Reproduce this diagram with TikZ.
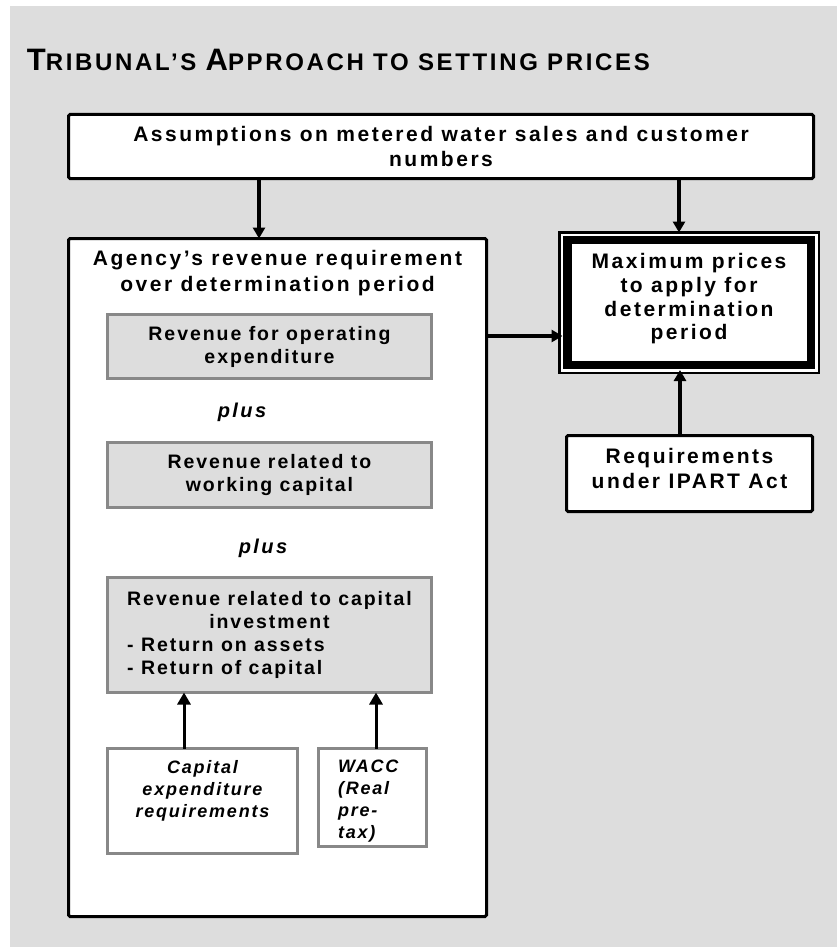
\documentclass[tikz,border=0pt]{standalone}
\usepackage{fontspec}
\setmainfont{Liberation Sans}
\newfontfamily\fA{Liberation Sans}[LetterSpace=12]
\newfontfamily\fT{Liberation Sans}[LetterSpace=11]
\newfontfamily\fG{Liberation Sans}[LetterSpace=10]
\usetikzlibrary{arrows.meta,calc}
\definecolor{bg}{RGB}{221,221,221}
\definecolor{gline}{RGB}{136,136,136}
\begin{document}
\begin{tikzpicture}[x=1pt,y=-1pt,
  every node/.style={inner sep=0pt, outer sep=0pt},
  blackbox/.style={draw=black, line width=3pt, fill=white, rounded corners=1.5pt},
  graybox/.style={draw=gline, line width=3pt, fill=bg},
  whitegray/.style={draw=gline, line width=3pt, fill=white},
  btext/.style={font=\fA\bfseries\fontsize{21}{25}\selectfont, align=center},
  gtext/.style={font=\fG\bfseries\fontsize{19.5}{23}\selectfont, align=center},
  itext/.style={font=\fG\bfseries\itshape\fontsize{18}{22}\selectfont},
  plustext/.style={font=\fA\bfseries\itshape\fontsize{20}{24}\selectfont},
  bigarrow/.style={line width=4.5pt, -{Triangle[length=11pt,width=12pt]}},
  midarrow/.style={line width=4pt, -{Triangle[length=11pt,width=12pt]}},
  smallarrow/.style={line width=3pt, -{Triangle[length=12pt,width=13pt]}},
]
\useasboundingbox (0,0) rectangle (837,947);
\fill[bg] (10,6) rectangle (837,947);

% title
\node[anchor=base west, font=\fT\bfseries] (title) at (27,71)
  {{\fontsize{31}{31}\selectfont T}{\fontsize{24}{24}\selectfont RIBUNAL’S }{\fontsize{31}{31}\selectfont A}{\fontsize{24}{24}\selectfont PPROACH TO SETTING PRICES}};

% top box
\node[blackbox, minimum width=745, minimum height=64, btext] (topbox) at (441,146.5)
  {Assumptions on metered water sales and customer\\numbers};

% agency box
\node[blackbox, minimum width=418, minimum height=678] (agency) at (277.5,577.5) {};
\node[btext, font=\fA\bfseries\fontsize{21}{26}\selectfont] (agtitle) at (277.5,273)
  {Agency’s revenue requirement\\over determination period};

\node[graybox, minimum width=324, minimum height=64, gtext] (box1) at (269.5,346.5)
  {Revenue for operating\\expenditure};
\node[plustext, anchor=base] (plus1) at (242,417) {plus};
\node[graybox, minimum width=324, minimum height=65, gtext] (box2) at (269.5,475)
  {Revenue related to\\working capital};
\node[plustext, anchor=base] (plus2) at (263,553) {plus};
\node[graybox, minimum width=324, minimum height=115, gtext] (box3) at (269.5,635)
  {\begin{tabular}{@{}l@{}}\multicolumn{1}{@{}c@{}}{Revenue related to capital}\\
   \multicolumn{1}{@{}c@{}}{investment}\\
   - Return on assets\\
   - Return of capital\end{tabular}};

\node[whitegray, minimum width=190, minimum height=105] (capbox) at (202.5,801) {};
\node[itext, align=center] (captext) at (202.5,790.5) {Capital\\expenditure\\requirements};
\node[whitegray, minimum width=108, minimum height=98] (wbox) at (372.5,797.5) {};
\node[itext, align=left, anchor=west] (wtext) at (338,801) {WACC\\(Real\\pre-\\tax)};

% maximum prices box
\node[draw=black, line width=2.3pt, fill=white, minimum width=259.5, minimum height=140.5] (maxbox) at (689.25,302.75) {};
\draw[line width=8.3pt] ($(maxbox.north west)+(8,7.8)$) rectangle ($(maxbox.south east)+(-8,-7.8)$);
\node[btext, font=\fA\bfseries\fontsize{21}{23.7}\selectfont] (maxtext) at (689,299)
  {Maximum prices\\to apply for\\determination\\period};

% requirements box
\node[blackbox, minimum width=246, minimum height=76] (reqbox) at (689.5,473.5) {};
\node[btext] (reqtext) at (689.5,468) {Requirements\\under IPART Act};

% helper coordinates
\coordinate (c259) at (259,0);
\coordinate (c679) at (679,0);
\coordinate (c680) at (680,0);
\coordinate (c184) at (184,0);
\coordinate (c376) at (376,0);
\coordinate (c336) at (0,336);

% connectors
\draw[bigarrow] (topbox.south -| c259) -- (agency.north -| c259);
\draw[bigarrow] (topbox.south -| c679) -- (maxbox.north -| c679);
\draw[midarrow, shorten >=-3pt] (agency.east |- c336) -- (maxbox.west |- c336);
\draw[bigarrow, shorten >=-3pt] (reqbox.north -| c680) -- (maxbox.south -| c680);
\draw[smallarrow] (capbox.north -| c184) -- (box3.south -| c184);
\draw[smallarrow] (wbox.north -| c376) -- (box3.south -| c376);
\end{tikzpicture}
\end{document}
